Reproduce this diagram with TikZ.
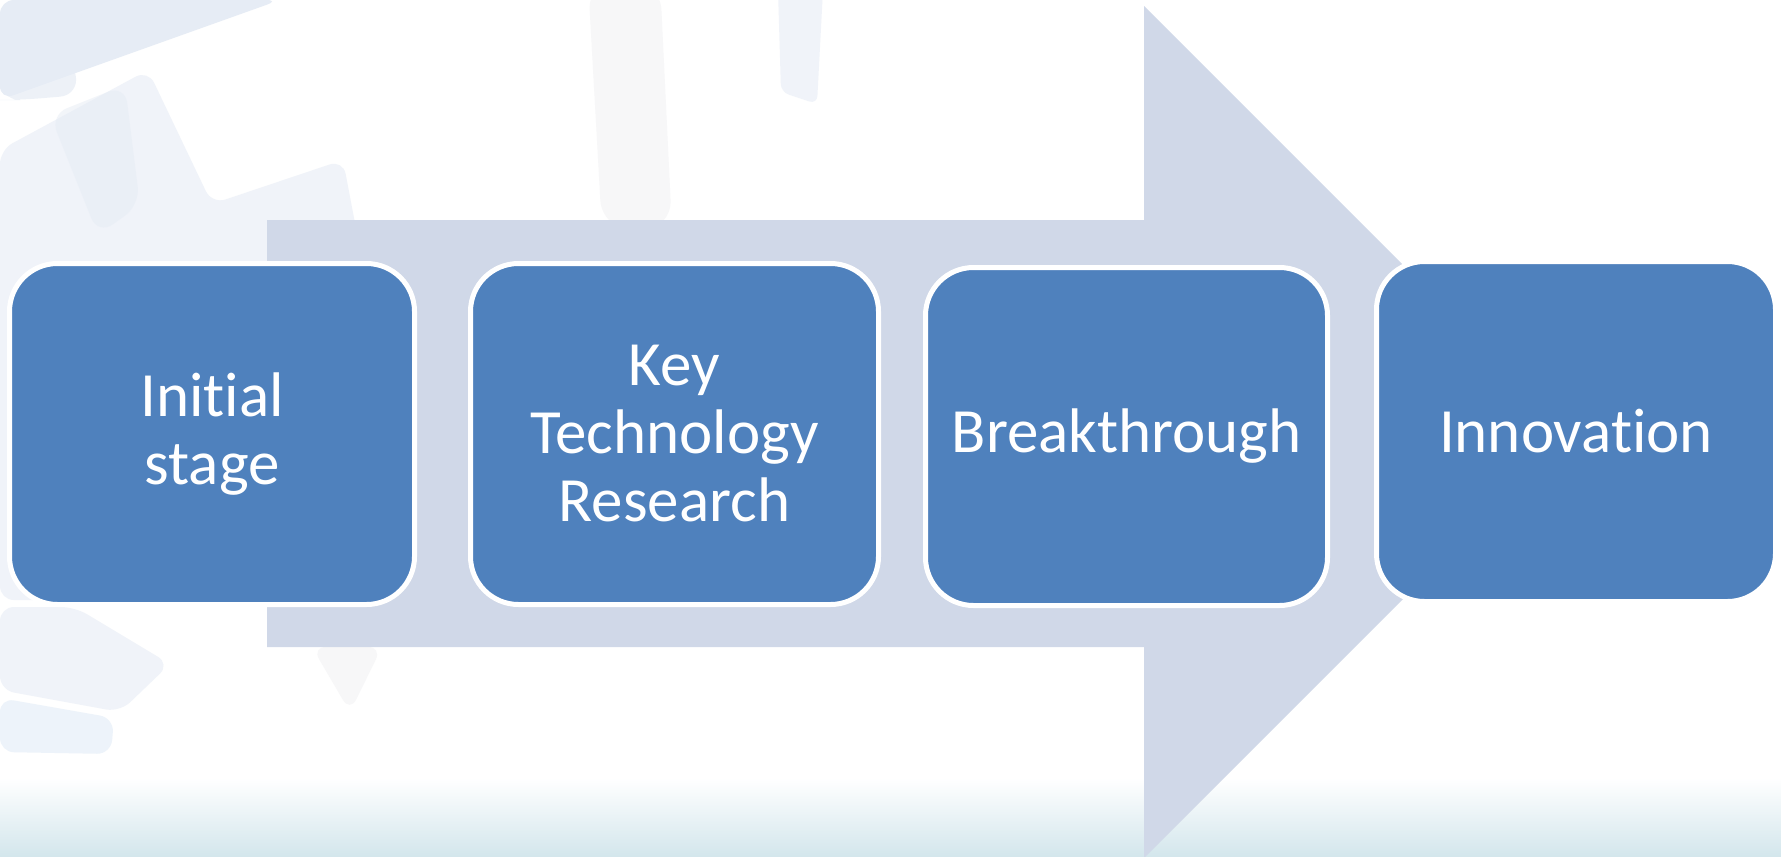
\documentclass[tikz,border=0pt]{standalone}
\usepackage{fontspec}
\setmainfont{Carlito}[Ligatures={NoCommon,NoRequired,NoContextual}]
\definecolor{boxblue}{HTML}{4F81BD}
\definecolor{arrowgray}{HTML}{D0D8E8}
\definecolor{tintA}{HTML}{F0F3F9}
\definecolor{tintB}{HTML}{E6ECF5}
\definecolor{tintC}{HTML}{F7F7F8}
\definecolor{tintD}{HTML}{EDF3FA}
\definecolor{bottomblue}{HTML}{D3E6EC}
\begin{document}
\begin{tikzpicture}[x=1pt,y=-1pt,
  stagebox/.style={draw=white, line width=5pt, fill=boxblue, rounded corners=48pt,
    text=white, align=center, inner sep=0pt,
    font=\fontsize{63}{68}\selectfont},
  deco/.style={rounded corners=14pt}]
\useasboundingbox (0,0) rectangle (1781,857);
\fill[white] (0,0) rectangle (1781,857);
% faint background decorations
\fill[tintA, deco] (0,150) -- (148,70) -- (212,204) -- (343,160) -- (362,260) -- (267,260) -- (267,560) -- (60,600) -- (0,600) -- cycle;
\fill[tintB, deco] (0,100) -- (0,0) -- (280,0) -- cycle;
\fill[tintB, opacity=0.7, rounded corners=20pt] (0,10) -- (60,5) -- (80,95) -- (20,100) -- (0,100) -- cycle;
\fill[tintB, opacity=0.5, rounded corners=18pt] (50,115) -- (125,85) -- (140,205) -- (98,235) -- cycle;
\fill[tintA, deco] (0,607) -- (75,607) -- (170,664) -- (120,712) -- (0,690) -- cycle;
\fill[tintD, deco] (0,698) -- (114,718) -- (111,754) -- (0,752) -- cycle;
\fill[tintC, deco] (312,647) -- (382,647) -- (350,712) -- cycle;
\fill[tintC, rounded corners=30pt] (588,-20) -- (660,-20) -- (672,230) -- (602,230) -- cycle;
\fill[tintA, rounded corners=8pt] (778,-10) -- (823,-10) -- (817,104) -- (781,92) -- cycle;
% bottom gradient band
\shade[top color=white, bottom color=bottomblue] (0,778) rectangle (1781,857);
% big arrow
\fill[arrowgray] (267,220) -- (1144,220) -- (1144,6) -- (1570,432) -- (1144,858) -- (1144,647) -- (267,647) -- cycle;
% stage boxes
\node[stagebox, minimum width=405pt, minimum height=341pt] (s1) at (212,434) {Initial\\stage};
\node[stagebox, minimum width=408pt, minimum height=341pt] (s2) at (674.5,434) {Key\\Technology\\Research};
\node[stagebox, minimum width=402pt, minimum height=338pt] (s3) at (1126.5,436.5) {Breakthrough};
\node[stagebox, minimum width=399pt, minimum height=340pt] (s4) at (1576,431.5) {Innovation};
\end{tikzpicture}
\end{document}
